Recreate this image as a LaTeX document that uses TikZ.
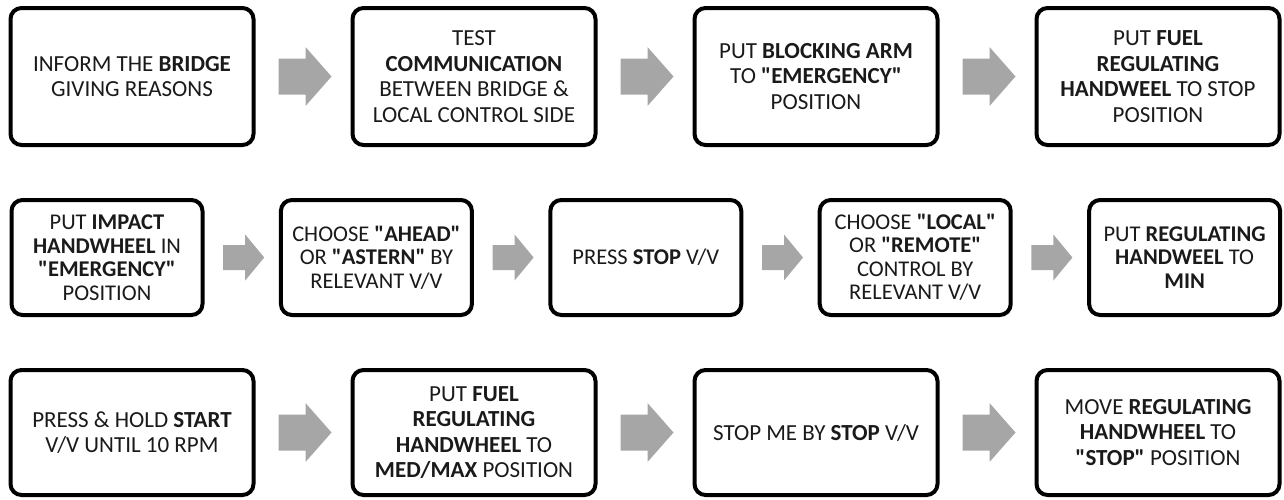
\documentclass[tikz,border=0pt]{standalone}
\usepackage{fontspec}
\setmainfont{Carlito}[Ligatures=TeXOff]
\usetikzlibrary{calc}
\definecolor{arrowgray}{HTML}{A6A6A6}
\definecolor{txtcol}{HTML}{1A1A1A}
\newcommand\blockarr[6]{%
  \fill[arrowgray] ($(#1.east)!0.5!(#2.west)+(2,0)$) ++(-#3/2,-#6) -- ++(#3-#4,0) -- ++(0,#6-#5)
    -- ++(#4,#5) -- ++(-#4,#5) -- ++(0,#6-#5) -- ++(-#3+#4,0) -- cycle;}
\begin{document}
\begin{tikzpicture}[x=1pt,y=-1pt,
  stepbox/.style={draw=black, line width=4pt, rounded corners=11pt, fill=white, align=center,
    text=txtcol, inner sep=0pt},
  widebox/.style={stepbox, minimum width=243pt, minimum height=137pt, font=\fontsize{23}{25.7}\selectfont},
  midbox/.style={stepbox, minimum width=191pt, minimum height=115pt, font=\fontsize{22.5}{23.5}\selectfont},
  lowbox/.style={stepbox, minimum width=243pt, minimum height=125pt, font=\fontsize{23}{25.3}\selectfont}]
\useasboundingbox (0,0) rectangle (1284,499);
% row 1
\node[widebox] (a1) at (132,76.5) {INFORM THE \textbf{BRIDGE}\\GIVING REASONS};
\node[widebox] (a2) at (474,76.5) {TEST\\\textbf{COMMUNICATION}\\BETWEEN BRIDGE \&\\LOCAL CONTROL SIDE};
\node[widebox] (a3) at (816,76.5) {PUT \textbf{BLOCKING ARM}\\TO \textbf{"EMERGENCY"}\\POSITION};
\node[widebox] (a4) at (1158,76.5) {PUT \textbf{FUEL}\\\textbf{REGULATING}\\\textbf{HANDWEEL} TO STOP\\POSITION};
% row 2
\node[midbox] (b1) at (107,257.5) {PUT \textbf{IMPACT}\\\textbf{HANDWHEEL} IN\\\textbf{"EMERGENCY"}\\POSITION};
\node[midbox] (b2) at (376.4,257.5) {CHOOSE \textbf{"AHEAD"}\\OR \textbf{"ASTERN"} BY\\RELEVANT V/V};
\node[midbox] (b3) at (645.8,257.5) {PRESS \textbf{STOP} V/V};
\node[midbox] (b4) at (915.2,257.5) {CHOOSE \textbf{"LOCAL"}\\OR \textbf{"REMOTE"}\\CONTROL BY\\RELEVANT V/V};
\node[midbox] (b5) at (1184.6,257.5) {PUT \textbf{REGULATING}\\\textbf{HANDWEEL} TO\\\textbf{MIN}};
% row 3
\node[lowbox] (c1) at (132,432.5) {PRESS \& HOLD \textbf{START}\\V/V UNTIL 10 RPM};
\node[lowbox] (c2) at (474,432.5) {PUT \textbf{FUEL}\\\textbf{REGULATING}\\\textbf{HANDWHEEL} TO\\\textbf{MED/MAX} POSITION};
\node[lowbox] (c3) at (816,432.5) {STOP ME BY \textbf{STOP} V/V};
\node[lowbox] (c4) at (1158,432.5) {MOVE \textbf{REGULATING}\\\textbf{HANDWHEEL} TO\\\textbf{"STOP"} POSITION};
% arrows
\blockarr{a1}{a2}{53}{26}{29.5}{18}
\blockarr{a2}{a3}{53}{26}{29.5}{18}
\blockarr{a3}{a4}{53}{26}{29.5}{18}
\blockarr{b1}{b2}{41}{19}{23}{12.5}
\blockarr{b2}{b3}{41}{19}{23}{12.5}
\blockarr{b3}{b4}{41}{19}{23}{12.5}
\blockarr{b4}{b5}{41}{19}{23}{12.5}
\blockarr{c1}{c2}{53}{26}{29.5}{18}
\blockarr{c2}{c3}{53}{26}{29.5}{18}
\blockarr{c3}{c4}{53}{26}{29.5}{18}
\end{tikzpicture}
\end{document}
